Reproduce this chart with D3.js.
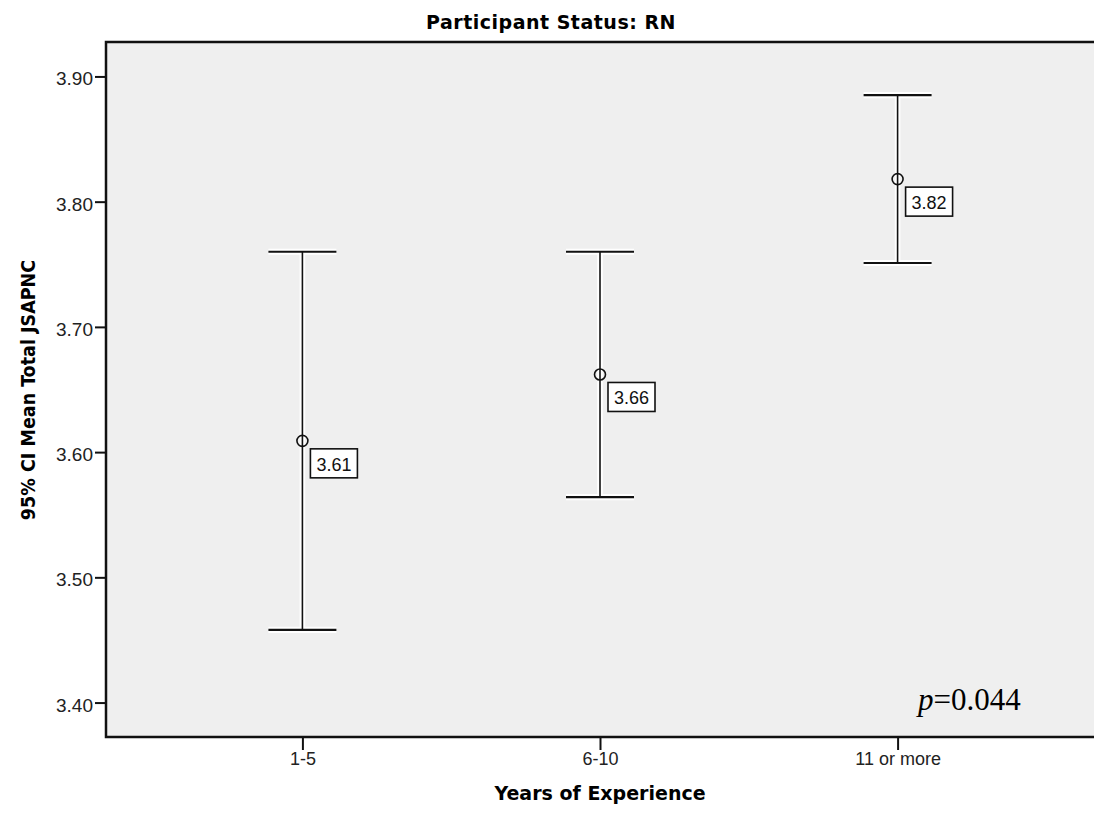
<!DOCTYPE html>
<meta charset="utf-8">
<style>
body { margin: 0; background: #fff; }
svg { display: block; }
.tick text { font: 19px "Liberation Sans", Arial, sans-serif; fill: #222; }
.title { font: bold 19px "DejaVu Sans", sans-serif; letter-spacing: 0.5px; }
.axis-title { font: bold 19px "DejaVu Sans", sans-serif; }
.lbl { font: 18px "Liberation Sans", Arial, sans-serif; }
</style>
<svg width="1094" height="814"></svg>
<script src="https://d3js.org/d3.v7.min.js"></script>
<script>

// years of experience groups
var groups = ["1-5", "6-10", "11 or more"];
var means = [3.609, 3.662, 3.818];
var lower = [3.458, 3.564, 3.751];
var upper = [3.760, 3.760, 3.885];
var meanLabels = ["3.61", "3.66", "3.82"];
var yTicks = [3.40, 3.50, 3.60, 3.70, 3.80, 3.90];

var svg = d3.select("svg"),
    pLeft = 106, pTop = 42, pRight = 1094, pBottom = 737;

var x = d3.scalePoint()
    .domain(groups)
    .range([pLeft, pRight])
    .padding(0.66);

var y = d3.scaleLinear()
    .domain([3.3725, 3.9275])
    .range([pBottom, pTop]);

// plot background
svg.append("rect")
    .attr("x", pLeft).attr("y", pTop)
    .attr("width", pRight - pLeft).attr("height", pBottom - pTop)
    .attr("fill", "#efefef");

// frame (left, top, bottom)
svg.append("path")
    .attr("d", "M" + (pRight + 2) + "," + pTop + "H" + pLeft + "V" + pBottom + "H" + (pRight + 2))
    .attr("fill", "none")
    .attr("stroke", "#111")
    .attr("stroke-width", 2.5);

// y axis
var yAxis = svg.append("g")
    .attr("transform", "translate(" + pLeft + ",0)")
    .call(d3.axisLeft(y).tickValues(yTicks).tickFormat(d3.format(".2f")).tickSize(11).tickPadding(2));
yAxis.select(".domain").remove();
yAxis.selectAll(".tick line").attr("stroke", "#111").attr("stroke-width", 2);
yAxis.selectAll(".tick text").attr("dy", "0.45em");

// x axis
var xAxis = svg.append("g")
    .attr("transform", "translate(0," + pBottom + ")")
    .call(d3.axisBottom(x).tickSize(13).tickPadding(4));
xAxis.select(".domain").remove();
xAxis.selectAll(".tick line").attr("stroke", "#111").attr("stroke-width", 2);
xAxis.selectAll(".tick text").style("font-size", "18px").attr("dy", "0.6em");

// error bars
var bars = svg.append("g").selectAll("g")
    .data(groups)
    .enter().append("g");

function drawBars(color, extra) {
  bars.append("line")
      .attr("x1", function(d) { return x(d); })
      .attr("x2", function(d) { return x(d); })
      .attr("y1", function(d, i) { return y(upper[i]); })
      .attr("y2", function(d, i) { return y(lower[i]); })
      .attr("stroke", color)
      .attr("stroke-width", 1.6 + extra);
  [upper, lower].forEach(function(arr) {
    bars.append("line")
        .attr("x1", function(d) { return x(d) - 34; })
        .attr("x2", function(d) { return x(d) + 34; })
        .attr("y1", function(d, i) { return y(arr[i]); })
        .attr("y2", function(d, i) { return y(arr[i]); })
        .attr("stroke", color)
        .attr("stroke-width", 2.2 + extra);
  });
}
drawBars("#fff", 4);
drawBars("#111", 0);

bars.append("circle")
    .attr("cx", function(d) { return x(d); })
    .attr("cy", function(d, i) { return y(means[i]); })
    .attr("r", 5.5)
    .attr("fill", "none")
    .attr("stroke", "#111")
    .attr("stroke-width", 1.6);

// mean labels
bars.append("rect")
    .attr("x", function(d) { return x(d) + 8; })
    .attr("y", function(d, i) { return y(means[i]) + 8; })
    .attr("width", 47)
    .attr("height", 29)
    .attr("fill", "#fff")
    .attr("stroke", "#111")
    .attr("stroke-width", 1.6);

bars.append("text")
    .attr("class", "lbl")
    .attr("x", function(d) { return x(d) + 31.5; })
    .attr("y", function(d, i) { return y(means[i]) + 30; })
    .attr("text-anchor", "middle")
    .attr("fill", "#111")
    .text(function(d, i) { return meanLabels[i]; });

// titles
svg.append("text")
    .attr("class", "title")
    .attr("x", 551).attr("y", 29)
    .attr("text-anchor", "middle")
    .text("Participant Status: RN");

svg.append("text")
    .attr("class", "axis-title")
    .attr("x", 600).attr("y", 800)
    .attr("text-anchor", "middle")
    .text("Years of Experience");

svg.append("text")
    .attr("class", "axis-title")
    .attr("transform", "translate(35,390) rotate(-90)")
    .attr("text-anchor", "middle")
    .style("font-family", "'DejaVu Sans Condensed', 'DejaVu Sans', sans-serif")
    .style("font-size", "19.5px")
    .text("95% CI Mean Total JSAPNC");

// p value
var p = svg.append("text")
    .attr("x", 918).attr("y", 710)
    .style("font", "31px 'Liberation Serif', 'Times New Roman', serif");
p.append("tspan").style("font-style", "italic").text("p");
p.append("tspan").text("=0.044");

</script>
